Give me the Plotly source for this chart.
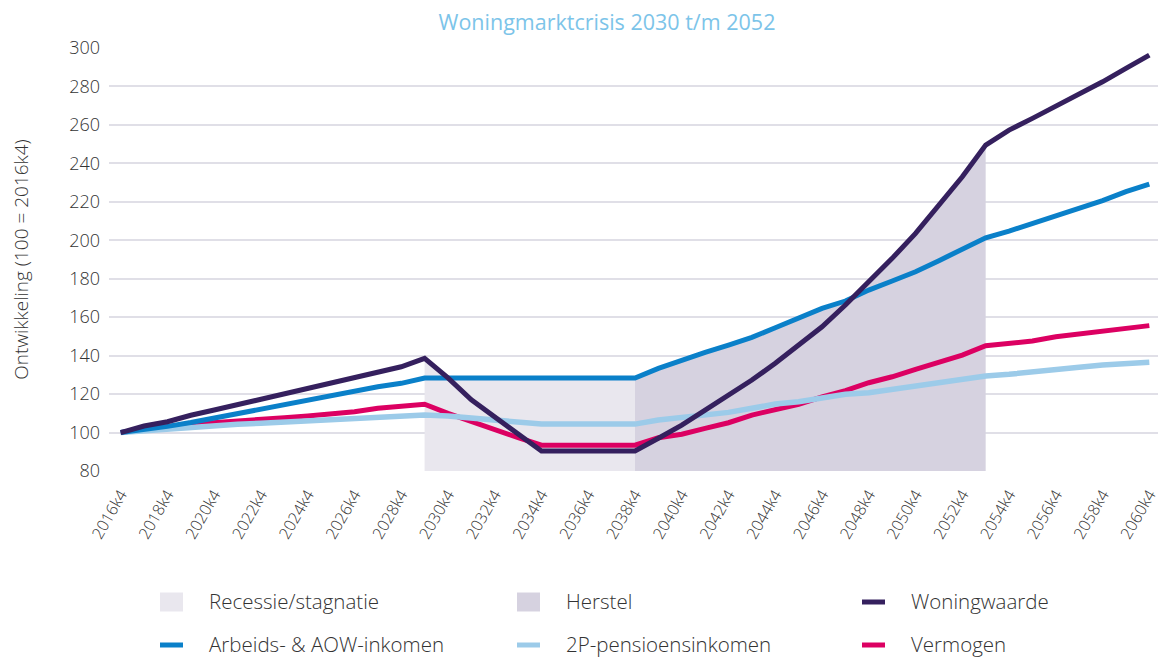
import plotly.graph_objects as go

# ---------------- data ----------------
years = list(range(2016, 2061))
categories = [f"{y}k4" for y in years]
tick_labels = categories[::2]

woningwaarde = [100, 103.4, 105.6, 109, 111.7, 114.5, 117.3, 120, 122.8, 125.6, 128.4, 131.2, 134.2, 138.6,
                128.4, 117, 108, 99, 90.4, 90.4, 90.4, 90.4, 90.4,
                97, 103.9, 111.7, 119.5, 127.3, 136, 145.5, 155, 166.3, 178.4, 190.6, 203.6, 218.3, 233, 249.5,
                257.3, 263.4, 269.8, 275.5, 282.4, 289.4, 296.3]
arbeids_aow = [100, 101.5, 103.2, 105.2, 107.5, 110, 112.3, 114.7, 117, 119.2, 121.8, 123.8, 125.6, 128.4,
               128.4, 128.4, 128.4, 128.4, 128.4, 128.4, 128.4, 128.4, 128.4,
               133.4, 137.7, 141.7, 145.5, 149.5, 154.5, 159.4, 164.6, 168.4, 174.1, 178.8, 183.6, 189.4, 195.3, 201.3,
               204.8, 208.8, 212.6, 216.6, 220.6, 225.3, 229.2]
pensioen_2p = [100, 101, 101.7, 102.5, 103.4, 104.3, 104.8, 105.5, 106.2, 106.5, 107.4, 108.2, 109.1, 109.1,
               108.6, 107.4, 106.2, 105.1, 104.4, 104.4, 104.4, 104.4, 104.4,
               106.5, 107.7, 109.1, 110.5, 112.6, 114.8, 116, 118.1, 119.9, 120.7, 122.5, 124.2, 126.1, 128.2, 129.4,
               130.3, 131.3, 132.5, 133.9, 135.1, 136, 136.5]
vermogen = [100, 101.7, 103, 104.3, 105.3, 106.2, 106.9, 107.7, 108.6, 109.5, 110.8, 112.6, 113.4, 114.7,
            110, 105.6, 101.3, 97.3, 93.4, 93.4, 93.4, 93.4, 93.4,
            97.3, 99.1, 102.2, 105.1, 109.1, 112.1, 114.7, 118.6, 121.8, 125.9, 129, 132.9, 136.5, 140.3, 145.2,
            146.7, 147.6, 149.8, 151.1, 152.8, 153.8, 155.6]

recessie_period = ("2029k4", "2038k4")
herstel_period = ("2038k4", "2053k4")

y_ticks = list(range(80, 301, 20))

# ---------------- styling ----------------
FONT = "Open Sans"
TXT = "#333333"
C_RECESSIE = "#e9e7ee"
C_HERSTEL = "#d6d2e0"
C_WONING = "#35205e"
C_ARBEIDS = "#0a80c9"
C_2P = "#9ccbe9"
C_VERMOGEN = "#dc0062"
C_GRID = "#e0dfe7"

OFF = 8  # page body margin offset
VW, VH = 1166, 659
W, H = VW - OFF, VH - OFF
PLOT_L, PLOT_R, PLOT_T, PLOT_B = 109, 1161, 48, 471  # desired viewport px
M_L, M_R, M_T, M_B = PLOT_L - OFF, VW - PLOT_R, PLOT_T - OFF, VH - PLOT_B
PW, PH = W - M_L - M_R, H - M_T - M_B

fig = go.Figure()


def shade(period, color, name):
    i0, i1 = categories.index(period[0]), categories.index(period[1])
    xs = categories[i0:i1 + 1]
    top = [max(a, b) for a, b in zip(woningwaarde[i0:i1 + 1], arbeids_aow[i0:i1 + 1])]
    fig.add_trace(go.Scatter(x=xs, y=top, mode="none", fill="tozeroy", fillcolor=color,
                             name=name, showlegend=False, hoverinfo="skip"))


shade(recessie_period, C_RECESSIE, "Recessie/stagnatie")
shade(herstel_period, C_HERSTEL, "Herstel")

for name, vals, col, w in [("Vermogen", vermogen, C_VERMOGEN, 5),
                           ("2P-pensioensinkomen", pensioen_2p, C_2P, 5.5),
                           ("Arbeids- & AOW-inkomen", arbeids_aow, C_ARBEIDS, 5),
                           ("Woningwaarde", woningwaarde, C_WONING, 5)]:
    fig.add_trace(go.Scatter(x=categories, y=vals, mode="lines", name=name,
                             line=dict(color=col, width=w, shape="linear"),
                             showlegend=False))


# ---------------- manual legend ----------------
def px2x(px):
    return (px - OFF - M_L) / PW


def py2y(py):
    return (H - M_B - (py - OFF)) / PH


legend_items = [
    ("Recessie/stagnatie", C_RECESSIE, "box", 160, 602),
    ("Herstel", C_HERSTEL, "box", 517, 602),
    ("Woningwaarde", C_WONING, "line", 862, 602),
    ("Arbeids- & AOW-inkomen", C_ARBEIDS, "line", 160, 645),
    ("2P-pensioensinkomen", C_2P, "line", 517, 645),
    ("Vermogen", C_VERMOGEN, "line", 862, 645),
]
shapes = []
annotations = []
for label, col, kind, x0, yc in legend_items:
    hh = 9.5 if kind == "box" else 2.5
    shapes.append(dict(type="rect", xref="paper", yref="paper",
                       x0=px2x(x0), x1=px2x(x0 + 23), y0=py2y(yc + hh), y1=py2y(yc - hh),
                       fillcolor=col, line=dict(width=0)))
    annotations.append(dict(text=label, xref="paper", yref="paper", x=px2x(x0 + 47), y=py2y(yc - 1),
                            xanchor="left", yanchor="middle", showarrow=False,
                            font=dict(family=FONT, size=20.5, color=TXT, weight=300)))

fig.update_layout(
    width=W, height=H,
    margin=dict(l=M_L, r=M_R, t=M_T, b=M_B),
    paper_bgcolor="white", plot_bgcolor="white",
    font=dict(family=FONT, color=TXT, weight=300),
    title=dict(text="Woningmarktcrisis 2030 t/m 2052", x=(607 - OFF) / W, xanchor="center",
               y=1 - (22 - OFF) / H, yanchor="middle", yref="container",
               font=dict(family=FONT, size=21.5, color="#7cc4e9", weight=400)),
    showlegend=False,
    shapes=shapes,
    annotations=annotations,
    xaxis=dict(type="category", categoryorder="array", categoryarray=categories,
               range=[-0.5, len(categories) - 0.5],
               tickmode="array", tickvals=tick_labels, ticktext=tick_labels,
               tickangle=-60, tickfont=dict(family=FONT, size=16, color=TXT, weight=300),
               ticklabelstandoff=10,
               showgrid=False, zeroline=False, showline=False, ticks=""),
    yaxis=dict(range=[80, 300], tickmode="array", tickvals=y_ticks,
               tickfont=dict(family=FONT, size=18, color=TXT, weight=300),
               showgrid=True, gridcolor=C_GRID, gridwidth=2, zeroline=False, showline=False,
               ticks="", ticklabelstandoff=8,
               title=dict(text="Ontwikkeling (100 = 2016k4)", standoff=36,
                          font=dict(family=FONT, size=19, color=TXT, weight=300))),
)

fig.write_html("out.html")
